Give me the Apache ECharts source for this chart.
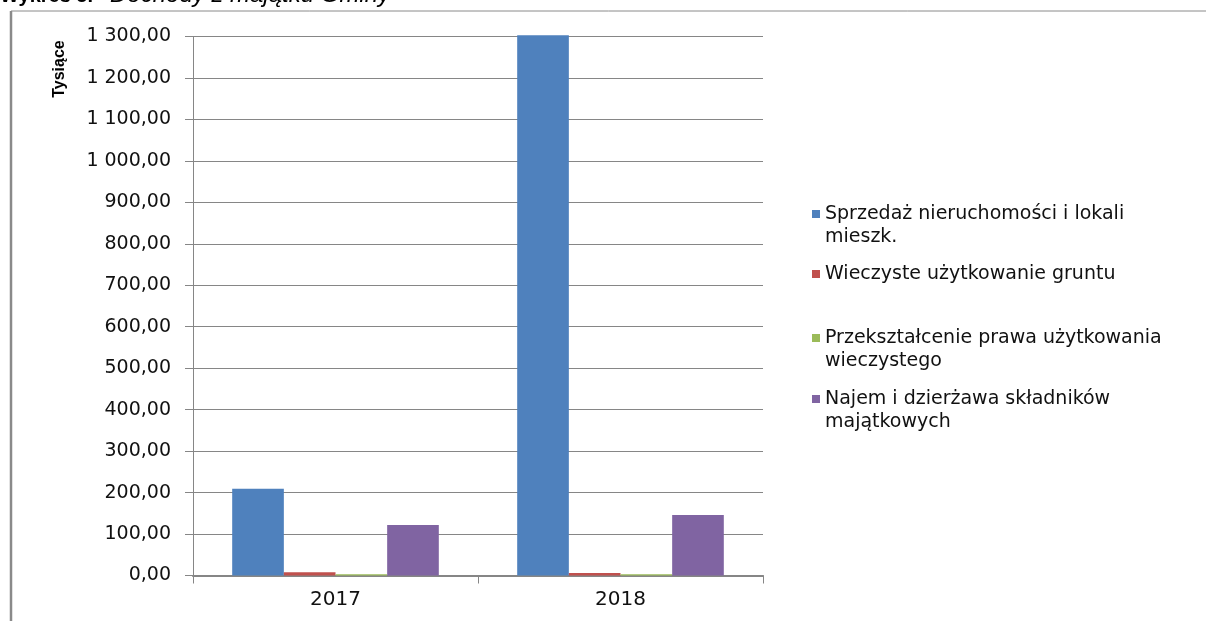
<!DOCTYPE html>
<html>
<head>
<meta charset="utf-8">
<script src="https://cdn.jsdelivr.net/npm/echarts@6/dist/echarts.min.js"></script>
<style>html,body{margin:0;padding:0;background:#fff}#c{width:1206px;height:621px}</style>
</head>
<body>
<div id="c"></div>
<script>
const categories = ['2017', '2018'];
const seriesNames = [
  'Sprzedaż nieruchomości i lokali mieszk.',
  'Wieczyste użytkowanie gruntu',
  'Przekształcenie prawa użytkowania wieczystego',
  'Najem i dzierżawa składników majątkowych'
];
const legendLines = [
  'Sprzedaż nieruchomości i lokali\nmieszk.',
  'Wieczyste użytkowanie gruntu',
  'Przekształcenie prawa użytkowania\nwieczystego',
  'Najem i dzierżawa składników\nmajątkowych'
];
const sprzedaz = [209, 1303];
const wieczyste = [8, 6];
const przeksztalcenie = [3, 3];
const najem = [122, 146];
const seriesValues = [sprzedaz, wieczyste, przeksztalcenie, najem];
const colors = ['#4F81BD', '#C0504D', '#9BBB59', '#8064A2'];
const yMin = 0, yMax = 1300, yStep = 100;

function fmt(v) {
  const s = v.toFixed(2).split('.');
  const intPart = s[0].replace(/\B(?=(\d{3})+(?!\d))/g, ' ');
  return intPart + ',' + s[1];
}

const LH = 23;
const legendCenters = [214, 274, 338, 399];
const legends = seriesNames.map((n, i) => {
  const twoLine = legendLines[i].indexOf('\n') >= 0;
  return {
    data: [n],
    orient: 'vertical',
    left: 812,
    top: twoLine ? legendCenters[i] - LH * 1.5 : legendCenters[i] - LH / 2,
    padding: 0,
    itemWidth: 8,
    itemHeight: 8,
    itemGap: 0,
    icon: 'rect',
    formatter: () => (twoLine ? '\n' : '') + legendLines[i],
    textStyle: {
      fontFamily: 'DejaVu Sans',
      fontSize: 19,
      color: '#111',
      lineHeight: LH
    }
  };
});

const chart = echarts.init(document.getElementById('c'));
chart.setOption({
  animation: false,
  backgroundColor: '#fff',
  color: colors,
  grid: { left: 193, right: 443, top: 36.5, bottom: 45.5, containLabel: false },
  legend: legends,
  graphic: [
    { type: 'line', shape: { x1: 11, y1: 11, x2: 1206, y2: 11 }, style: { stroke: '#8a8a8a', lineWidth: 1 } },
    { type: 'line', shape: { x1: 11, y1: 11, x2: 11, y2: 621 }, style: { stroke: '#8a8a8a', lineWidth: 2.5 } },
    {
      type: 'text', x: 0, y: 6,
      style: {
        text: 'Wykres 5.', fontFamily: 'Liberation Sans', fontWeight: 'bold', fontSize: 20,
        fill: '#000', verticalAlign: 'bottom'
      }
    },
    {
      type: 'text', x: 110, y: 7,
      style: {
        text: 'Dochody z majątku Gminy', fontFamily: 'Liberation Sans', fontStyle: 'italic', fontSize: 24,
        fill: '#000', verticalAlign: 'bottom'
      }
    },
    {
      type: 'text', x: 60, y: 69, rotation: Math.PI / 2,
      style: {
        text: 'Tysiące', fontFamily: 'Liberation Sans', fontWeight: 'bold', fontSize: 16,
        fill: '#000', align: 'center', verticalAlign: 'middle'
      }
    }
  ],
  xAxis: {
    type: 'category',
    data: categories,
    axisLine: { lineStyle: { color: '#868686', width: 2 } },
    axisTick: { show: true, length: 8, alignWithLabel: false, lineStyle: { color: '#868686' } },
    axisLabel: { fontFamily: 'DejaVu Sans', fontSize: 20, color: '#111', margin: 14 },
    splitLine: { show: false }
  },
  yAxis: {
    type: 'value',
    min: yMin, max: yMax, interval: yStep,
    axisLine: { show: true, lineStyle: { color: '#868686' } },
    axisTick: { show: true, length: 8, inside: false, lineStyle: { color: '#868686' } },
    axisLabel: { fontFamily: 'DejaVu Sans', fontSize: 19, color: '#111', margin: 22, formatter: fmt },
    splitLine: { show: true, lineStyle: { color: '#868686', width: 1 } }
  },
  series: seriesNames.map((n, i) => ({
    name: n,
    type: 'bar',
    data: seriesValues[i],
    barGap: '0%',
    barCategoryGap: '27.5%',
    clip: false,
    itemStyle: { color: colors[i] }
  }))
});
</script>
</body>
</html>
